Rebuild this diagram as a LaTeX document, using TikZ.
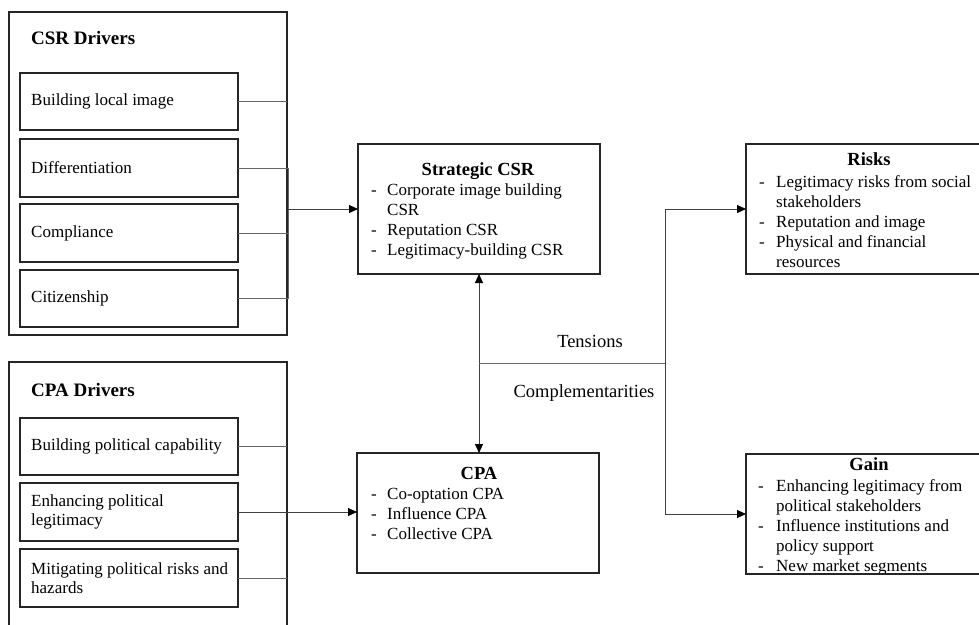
\documentclass[tikz,border=0pt]{standalone}
\usepackage{fontspec}
\setmainfont{Liberation Serif}
\usetikzlibrary{arrows.meta}
\newcommand\bul{\makebox[16pt][l]{-}}
\newcommand\ind{\hspace*{16pt}}
\begin{document}
\begin{tikzpicture}[x=1pt,y=-1pt,
 bx/.style={draw=black!85, line width=1.2pt, inner sep=0, outer sep=0, anchor=north west},
 drvtitle/.style={font=\fontsize{19}{22}\selectfont\bfseries, anchor=base west, inner sep=0},
 drvtext/.style={font=\fontsize{17}{19.5}\selectfont, align=left, anchor=west, inner sep=0},
 ttl/.style={font=\fontsize{18.5}{22}\selectfont\bfseries, anchor=base, inner sep=0},
 body/.style={font=\fontsize{17}{20}\selectfont, anchor=north west, inner sep=0},
 lbl/.style={font=\fontsize{18.5}{22}\selectfont, anchor=base, inner sep=0},
 conn/.style={draw=black!60, line width=0.9pt},
 tip/.tip={Triangle[length=9pt,width=8pt,fill=black,color=black]},
 arr/.style={draw=black!75, line width=0.9pt, -tip},
 darr/.style={draw=black!75, line width=0.9pt, tip-tip},
]
\useasboundingbox (0,0) rectangle (979,624);
\fill[white] (0,0) rectangle (979,624);

% CSR drivers
\node[bx, minimum width=278, minimum height=323] (csrd) at (9,12) {};
\node[drvtitle] (csrdt) at (31,44) {CSR Drivers};
\node[bx, minimum width=218, minimum height=57] (d1) at (20,73) {};
\node[bx, minimum width=218, minimum height=58] (d2) at (20,139) {};
\node[bx, minimum width=218, minimum height=58] (d3) at (20,204) {};
\node[bx, minimum width=218, minimum height=57] (d4) at (20,270) {};
\node[drvtext] (d1t) at ([xshift=11pt]d1.west) {Building local image};
\node[drvtext] (d2t) at ([xshift=11pt]d2.west) {Differentiation};
\node[drvtext] (d3t) at ([xshift=11pt]d3.west) {Compliance};
\node[drvtext] (d4t) at ([xshift=11pt]d4.west) {Citizenship};

% CPA drivers
\node[bx, minimum width=278, minimum height=300] (cpad) at (9,362) {};
\node[drvtitle] (cpadt) at (31,396) {CPA Drivers};
\node[bx, minimum width=218, minimum height=57] (p1) at (20,418) {};
\node[bx, minimum width=218, minimum height=58] (p2) at (20,483) {};
\node[bx, minimum width=218, minimum height=58] (p3) at (20,549) {};
\node[drvtext] (p1t) at ([xshift=11pt]p1.west) {Building political capability};
\node[drvtext] (p2t) at ([xshift=11pt]p2.west) {Enhancing political\\legitimacy};
\node[drvtext] (p3t) at ([xshift=11pt]p3.west) {Mitigating political risks and\\hazards};

% Strategic CSR
\node[bx, minimum width=242, minimum height=130] (scsr) at (358,144) {};
\node[ttl] (scsrt) at (478,175) {Strategic CSR};
\node[body] (scsrb) at (371,181) {\begin{tabular}{@{}l@{}}\bul Corporate image building\\ \ind CSR\\ \bul Reputation CSR\\ \bul Legitimacy-building CSR\end{tabular}};

% CPA
\node[bx, minimum width=242, minimum height=120] (cpa) at (357,453) {};
\node[ttl] (cpat) at (479,479) {CPA};
\node[body] (cpab) at (371,485) {\begin{tabular}{@{}l@{}}\bul Co-optation CPA\\ \bul Influence CPA\\ \bul Collective CPA\end{tabular}};

% Risks
\node[bx, minimum width=260, minimum height=130] (risks) at (746,144) {};
\node[ttl] (riskst) at (869,165) {Risks};
\node[body] (risksb) at (759,173) {\begin{tabular}{@{}l@{}}\makebox[17pt][l]{-}Legitimacy risks from social\\ \hspace*{17pt}stakeholders\\ \makebox[17pt][l]{-}Reputation and image\\ \makebox[17pt][l]{-}Physical and financial\\ \hspace*{17pt}resources\end{tabular}};

% Gain
\node[bx, minimum width=260, minimum height=120] (gain) at (746,454) {};
\node[body] (gainb) at (758,477) {\begin{tabular}{@{}l@{}}\makebox[18pt][l]{-}Enhancing legitimacy from\\ \hspace*{18pt}political stakeholders\\ \makebox[18pt][l]{-}Influence institutions and\\ \hspace*{18pt}policy support\\ \makebox[18pt][l]{-}New market segments\end{tabular}};
\node[ttl] (gaint) at (869,470) {Gain};
\draw[draw=black!85, line width=1.2pt] (gain.south west) -- (gain.south east);

% labels
\node[lbl] (tens) at (590,347) {Tensions};
\node[lbl] (comp) at (584,397) {Complementarities};

% CSR connectors
\coordinate (j2) at (288,0);
\draw[conn] (d1.east) -- (d1.east -| csrd.east);
\draw[conn] (d2.east) -- (d2.east -| j2) -- (d4.east -| j2) -- (d4.east);
\draw[conn] (d3.east) -- (d3.east -| j2);
\draw[arr] (scsr.west -| j2) -- (scsr.west);

% CPA connectors
\draw[conn] (p1.east) -- (p1.east -| cpad.east);
\draw[conn] (p3.east) -- (p3.east -| cpad.east);
\draw[arr] (p2.east) -- (p2.east -| cpa.west);

% central
\draw[darr] (scsr.south) -- (scsr.south |- cpa.north);
\coordinate (br) at (479,363);
\coordinate (sp) at (665,363);
\draw[conn] (br) -- (sp);
\draw[arr] (sp) |- (risks.west);
\draw[arr] (sp) |- (gain.west);
\end{tikzpicture}
\end{document}
